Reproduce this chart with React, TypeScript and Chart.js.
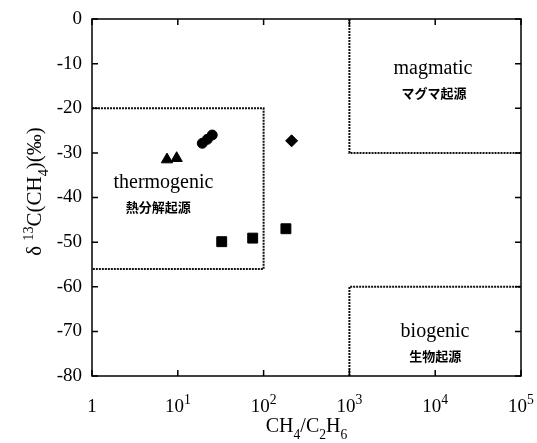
import { useEffect, useRef } from "react";
import { Chart, registerables } from "chart.js";

Chart.register(...registerables);

const SERIF = '"Liberation Serif", "Times New Roman", serif';
const CJK = '"Noto Sans CJK JP", sans-serif';

// ---- data ----
const triangleX = [7.48, 9.7];
const triangleY = [-31.5, -31.2];
const circleX = [19.3, 22.1, 25.2];
const circleY = [-27.85, -26.96, -26.0];
const diamondX = [212];
const diamondY = [-27.3];
const squareX = [32.5, 74.6, 182];
const squareY = [-49.9, -49.1, -47.0];

// region boundaries (dashed)
const thermoBoxX = [1, 100, 100, 1];
const thermoBoxY = [-20, -20, -56, -56];
const magmaBoxX = [1000, 1000, 100000];
const magmaBoxY = [0, -30, -30];
const bioBoxX = [1000, 1000, 100000];
const bioBoxY = [-80, -60, -60];

// ticks
const xTickValues = [1, 10, 100, 1000, 10000, 100000];
const xTickBase = ["1", "10", "10", "10", "10", "10"];
const xTickSup = ["", "1", "2", "3", "4", "5"];
const yTickValues = [0, -10, -20, -30, -40, -50, -60, -70, -80];

// region labels
const labelText = ["thermogenic", "熱分解起源", "magmatic", "マグマ起源", "biogenic", "生物起源"];
const labelKind = ["en", "ja", "en", "ja", "en", "ja"];
const labelX = [6.8, 5.9, 9420, 9690, 9960, 10000];
const labelY = [-37.9, -42.1, -12.3, -16.6, -71.3, -75.5];

const pts = (xs: number[], ys: number[]) => xs.map((x, i) => ({ x, y: ys[i] }));

type Part = { t: string; s?: number };

function drawRich(
  ctx: CanvasRenderingContext2D,
  parts: Part[],
  x: number,
  y: number,
  size: number,
  ratio = 0.68
) {
  const small = size * ratio;
  const font = (sz: number) => `${sz}px ${SERIF}`;
  let w = 0;
  for (const p of parts) {
    ctx.font = font(p.s ? small : size);
    w += ctx.measureText(p.t).width;
  }
  let cx = x - w / 2;
  ctx.textAlign = "left";
  ctx.textBaseline = "alphabetic";
  for (const p of parts) {
    ctx.font = font(p.s ? small : size);
    const dy = p.s === 1 ? -size * 0.4 : p.s === -1 ? size * 0.33 : 0;
    ctx.fillText(p.t, cx, y + dy);
    cx += ctx.measureText(p.t).width;
  }
}

const framePlugin = {
  id: "frame",
  afterDraw(chart: any) {
    const { ctx, chartArea: a, scales } = chart;
    const xs = scales.x;
    const ys = scales.y;
    ctx.save();
    ctx.strokeStyle = "#000";
    ctx.fillStyle = "#000";
    ctx.lineWidth = 1.5;
    ctx.strokeRect(a.left, a.top, a.right - a.left, a.bottom - a.top);
    ctx.beginPath();
    for (const v of xTickValues) {
      const px = xs.getPixelForValue(v);
      ctx.moveTo(px, a.bottom);
      ctx.lineTo(px, a.bottom - 6);
      ctx.moveTo(px, a.top);
      ctx.lineTo(px, a.top + 6);
    }
    for (const v of yTickValues) {
      const py = ys.getPixelForValue(v);
      ctx.moveTo(a.left, py);
      ctx.lineTo(a.left + 6, py);
      ctx.moveTo(a.right, py);
      ctx.lineTo(a.right - 6, py);
    }
    ctx.stroke();

    // x tick labels
    xTickValues.forEach((v, i) => {
      const px = xs.getPixelForValue(v);
      const parts: Part[] = [{ t: xTickBase[i] }];
      if (xTickSup[i]) parts.push({ t: xTickSup[i], s: 1 });
      drawRich(ctx, parts, px, a.bottom + 36, 19, 0.72);
    });

    // x title
    drawRich(
      ctx,
      [
        { t: "CH" },
        { t: "4", s: -1 },
        { t: "/C" },
        { t: "2", s: -1 },
        { t: "H" },
        { t: "6", s: -1 },
      ],
      (a.left + a.right) / 2,
      a.bottom + 56,
      20
    );

    // y title
    ctx.save();
    ctx.translate(41, (a.top + a.bottom) / 2 - 6);
    ctx.rotate(-Math.PI / 2);
    drawRich(
      ctx,
      [
        { t: "δ " },
        { t: "13", s: 1 },
        { t: "C(CH" },
        { t: "4", s: -1 },
        { t: ")(‰)" },
      ],
      0,
      0,
      21
    );
    ctx.restore();

    // region labels
    labelText.forEach((t, i) => {
      const px = xs.getPixelForValue(labelX[i]);
      const py = ys.getPixelForValue(labelY[i]);
      ctx.textAlign = "center";
      if (labelKind[i] === "en") {
        ctx.font = `20px ${SERIF}`;
        ctx.textBaseline = "alphabetic";
      } else {
        ctx.font = `bold 13px ${CJK}`;
        ctx.textBaseline = "middle";
      }
      ctx.fillText(t, px, py);
    });
    ctx.restore();
  },
};

export default function App() {
  const ref = useRef<HTMLCanvasElement>(null);
  useEffect(() => {
    document.body.style.margin = "0";
    const canvas = ref.current!;
    const boxStyle = {
      showLine: true,
      borderColor: "#111",
      borderWidth: 2,
      borderDash: [2, 1],
      pointRadius: 0,
      fill: false,
    };
    const markStyle = {
      backgroundColor: "#000",
      borderColor: "#000",
      borderWidth: 1,
    };
    const chart = new Chart(canvas, {
      type: "scatter",
      data: {
        datasets: [
          { label: "thermogenic", data: pts(thermoBoxX, thermoBoxY), ...boxStyle } as any,
          { label: "magmatic", data: pts(magmaBoxX, magmaBoxY), ...boxStyle } as any,
          { label: "biogenic", data: pts(bioBoxX, bioBoxY), ...boxStyle } as any,
          { label: "triangle", data: pts(triangleX, triangleY), pointStyle: "triangle", pointRadius: 6.5, ...markStyle },
          { label: "circle", data: pts(circleX, circleY), pointStyle: "circle", pointRadius: 5, ...markStyle },
          { label: "diamond", data: pts(diamondX, diamondY), pointStyle: "rectRot", pointRadius: 6, ...markStyle },
          { label: "square", data: pts(squareX, squareY), pointStyle: "rect", pointRadius: 7, ...markStyle },
        ],
      },
      options: {
        responsive: false,
        animation: false,
        layout: { padding: { top: 19, right: 16, left: 0, bottom: 0 } },
        plugins: { legend: { display: false }, tooltip: { enabled: false } },
        scales: {
          x: {
            type: "logarithmic",
            min: 1,
            max: 100000,
            position: "bottom",
            afterBuildTicks: (s: any) => {
              s.ticks = xTickValues.map((v) => ({ value: v }));
            },
            afterFit: (s: any) => {
              s.height = 67;
            },
            ticks: { display: false },
            grid: { display: false },
            border: { display: false },
          },
          y: {
            type: "linear",
            min: -80,
            max: 0,
            position: "left",
            afterBuildTicks: (s: any) => {
              s.ticks = yTickValues.map((v) => ({ value: v }));
            },
            afterFit: (s: any) => {
              s.width = 92;
            },
            ticks: { color: "#000", font: { family: SERIF, size: 19 }, padding: 2 },
            grid: { display: false },
            border: { display: false },
          },
        },
      } as any,
      plugins: [framePlugin],
    });
    return () => chart.destroy();
  }, []);
  return <canvas ref={ref} width={537} height={443} style={{ display: "block" }} />;
}
